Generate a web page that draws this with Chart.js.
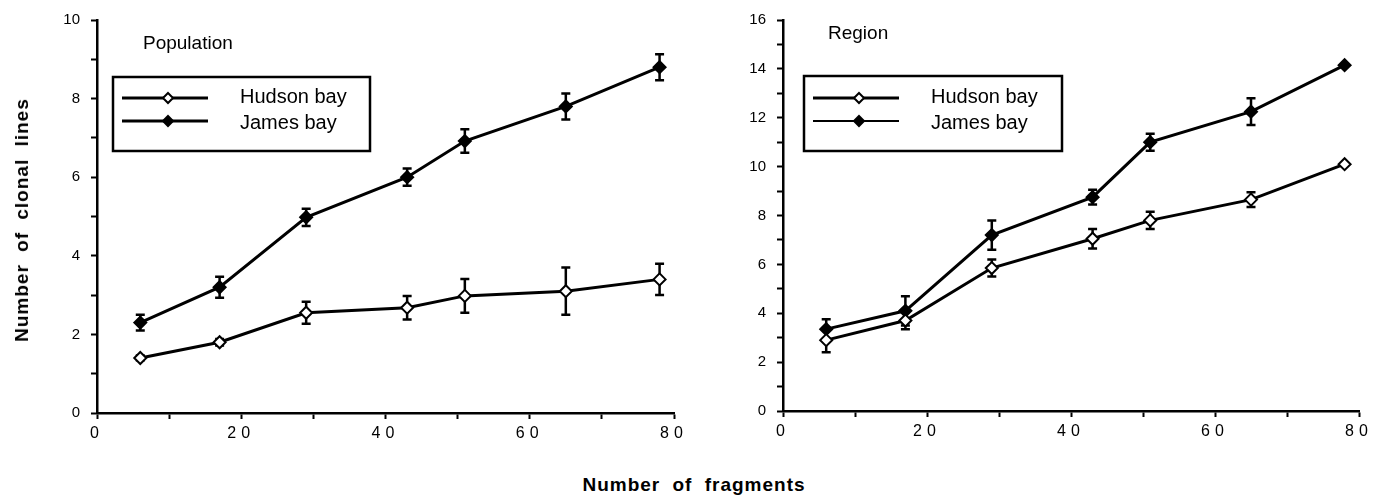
<!DOCTYPE html>
<html>
<head>
<meta charset="utf-8">
<script src="https://cdn.jsdelivr.net/npm/chart.js@4"></script>
<style>
  body { margin: 0; background: #fff; }
  #wrap { position: relative; width: 1387px; height: 503px; overflow: hidden; }
  canvas { position: absolute; top: 0; }
  .axt { position: absolute; font: bold 19px "Liberation Sans", Arial, sans-serif; letter-spacing: 1px; word-spacing: 6px; color: #000; white-space: nowrap; }
</style>
</head>
<body>
<div id="wrap">
  <canvas id="popChart" width="700" height="470" style="left:0"></canvas>
  <canvas id="regChart" width="697" height="470" style="left:690px"></canvas>
  <div class="axt" id="ytitle">Number of clonal lines</div>
  <div class="axt" id="xtitle">Number of fragments</div>
</div>
<script>
// fragments sampled (x)
const fragments = [6, 17, 29, 43, 51, 65, 78]
const seriesNames = ["Hudson bay", "James bay"]

// left panel: population
const popHudson = [1.4, 1.8, 2.55, 2.68, 2.98, 3.1, 3.4]
const popHudsonErr = [0.06, 0.08, 0.28, 0.3, 0.43, 0.6, 0.4]
const popJames = [2.3, 3.2, 4.98, 6.0, 6.92, 7.8, 8.8]
const popJamesErr = [0.2, 0.27, 0.22, 0.22, 0.3, 0.33, 0.33]

// right panel: region
const regHudson = [2.9, 3.7, 5.85, 7.05, 7.8, 8.65, 10.1]
const regHudsonErr = [0.5, 0.35, 0.35, 0.4, 0.35, 0.3, 0]
const regJames = [3.35, 4.1, 7.2, 8.75, 11.0, 12.25, 14.15]
const regJamesErr = [0.4, 0.6, 0.6, 0.3, 0.35, 0.55, 0]

const FONT = '"Liberation Sans", Arial, sans-serif'

const yt = document.getElementById("ytitle")
yt.style.left = "22px"
yt.style.top = "220px"
yt.style.transform = "translate(-50%, -50%) rotate(-90deg)"
const xt = document.getElementById("xtitle")
xt.style.left = "694px"
xt.style.top = "485px"
xt.style.transform = "translate(-50%, -50%)"

const toPoints = (vals) => fragments.map((x, i) => ({ x: x, y: vals[i] }))

// error bars, legend box and panel label
const extras = {
	id: "extras",
	beforeDraw(chart) {
		// wider letter spacing on the x tick labels only
		const xs = chart.scales.x
		if (!xs._spaced) {
			const orig = xs.drawLabels
			xs.drawLabels = function (area) {
				this.ctx.letterSpacing = "5px"
				orig.call(this, area)
				this.ctx.letterSpacing = "0px"
			}
			xs._spaced = true
		}
	},
	beforeDatasetsDraw(chart, args, opts) {
		const ctx = chart.ctx
		const xs = chart.scales.x
		const ys = chart.scales.y
		ctx.save()
		ctx.strokeStyle = "#000"
		ctx.lineWidth = 2.5
		chart.data.datasets.forEach((ds, di) => {
			const errs = opts.errors[di]
			ds.data.forEach((p, i) => {
				const e = errs[i]
				if (!e) return
				const px = xs.getPixelForValue(p.x)
				const top = ys.getPixelForValue(p.y + e)
				const bot = ys.getPixelForValue(p.y - e)
				ctx.beginPath()
				ctx.moveTo(px, top)
				ctx.lineTo(px, bot)
				ctx.moveTo(px - 4.5, top)
				ctx.lineTo(px + 4.5, top)
				ctx.moveTo(px - 4.5, bot)
				ctx.lineTo(px + 4.5, bot)
				ctx.stroke()
			})
		})
		ctx.restore()
	},
	afterDraw(chart, args, opts) {
		const ctx = chart.ctx
		ctx.save()
		ctx.fillStyle = "#000"
		ctx.textBaseline = "middle"
		ctx.font = "19px " + FONT
		ctx.fillText(opts.panel, opts.panelX, opts.panelY)

		const b = opts.box
		ctx.strokeStyle = "#000"
		ctx.lineWidth = 2.5
		ctx.strokeRect(b[0], b[1], b[2] - b[0], b[3] - b[1])

		const rows = [98, 121]
		chart.data.datasets.forEach((ds, di) => {
			const y = rows[di]
			ctx.lineWidth = opts.legendWidths[di]
			ctx.beginPath()
			ctx.moveTo(b[0] + 9, y)
			ctx.lineTo(b[0] + 95, y)
			ctx.stroke()
			const mx = b[0] + 55
			ctx.beginPath()
			ctx.moveTo(mx, y - 5)
			ctx.lineTo(mx + 5, y)
			ctx.lineTo(mx, y + 5)
			ctx.lineTo(mx - 5, y)
			ctx.closePath()
			ctx.fillStyle = ds.pointBackgroundColor
			ctx.fill()
			ctx.lineWidth = 2
			ctx.stroke()
			ctx.fillStyle = "#000"
			ctx.font = "20px " + FONT
			ctx.fillText(ds.label, b[0] + 127, y + (di === 0 ? -1 : 2))
		})
		ctx.restore()
	},
}

const makeDataset = (label, vals, fill) => ({
	label: label,
	data: toPoints(vals),
	borderColor: "#000",
	borderWidth: 3,
	pointStyle: "rectRot",
	pointRadius: 6,
	pointBorderWidth: 2,
	pointBorderColor: "#000",
	pointBackgroundColor: fill,
	tension: 0,
})

const buildChart = (id, p) => {
	const ctx = document.getElementById(id).getContext("2d")
	return new Chart(ctx, {
		type: "line",
		data: {
			datasets: [
				makeDataset(seriesNames[0], p.hudson, "#fff"),
				makeDataset(seriesNames[1], p.james, "#000"),
			],
		},
		plugins: [extras],
		options: {
			responsive: false,
			animation: false,
			layout: { padding: p.padding },
			plugins: {
				legend: { display: false },
				tooltip: { enabled: false },
				extras: {
					errors: [p.hudsonErr, p.jamesErr],
					panel: p.panel,
					panelX: p.panelX,
					panelY: p.panelY,
					box: p.box,
					legendWidths: p.legendWidths,
				},
			},
			scales: {
				x: {
					type: "linear",
					min: 0,
					max: 80,
					afterFit: (s) => { s.height = 30 },
					border: { color: "#000", width: 2.5 },
					grid: { drawOnChartArea: false, tickLength: 6, tickWidth: 2, tickColor: "#000" },
					ticks: {
						stepSize: 10,
						autoSkip: false,
						maxRotation: 0,
						color: "#000",
						padding: 5,
						font: { family: FONT, size: 16 },
						callback: (v) => (v % 20 === 0 ? v : ""),
					},
				},
				y: {
					min: 0,
					max: p.ymax,
					afterFit: (s) => { s.width = p.yWidth },
					border: { color: "#000", width: 2.5 },
					grid: { drawOnChartArea: false, tickLength: 6, tickWidth: 2, tickColor: "#000" },
					ticks: {
						stepSize: 1,
						autoSkip: false,
						color: "#000",
						padding: 11,
						font: { family: FONT, size: 15 },
						callback: (v) => (v % 2 === 0 ? v : ""),
					},
				},
			},
		},
	})
}

buildChart("popChart", {
	hudson: popHudson, hudsonErr: popHudsonErr,
	james: popJames, jamesErr: popJamesErr,
	ymax: 10,
	yWidth: 97,
	padding: { left: 0, right: 26, top: 20, bottom: 27 },
	panel: "Population", panelX: 143, panelY: 44,
	box: [113, 77, 370, 151],
	legendWidths: [3, 3],
})

buildChart("regChart", {
	hudson: regHudson, hudsonErr: regHudsonErr,
	james: regJames, jamesErr: regJamesErr,
	ymax: 16,
	yWidth: 93,
	padding: { left: 0, right: 28, top: 19, bottom: 29 },
	panel: "Region", panelX: 138, panelY: 34,
	box: [114, 76, 372, 151],
	legendWidths: [3, 2],
})
</script>
</body>
</html>
